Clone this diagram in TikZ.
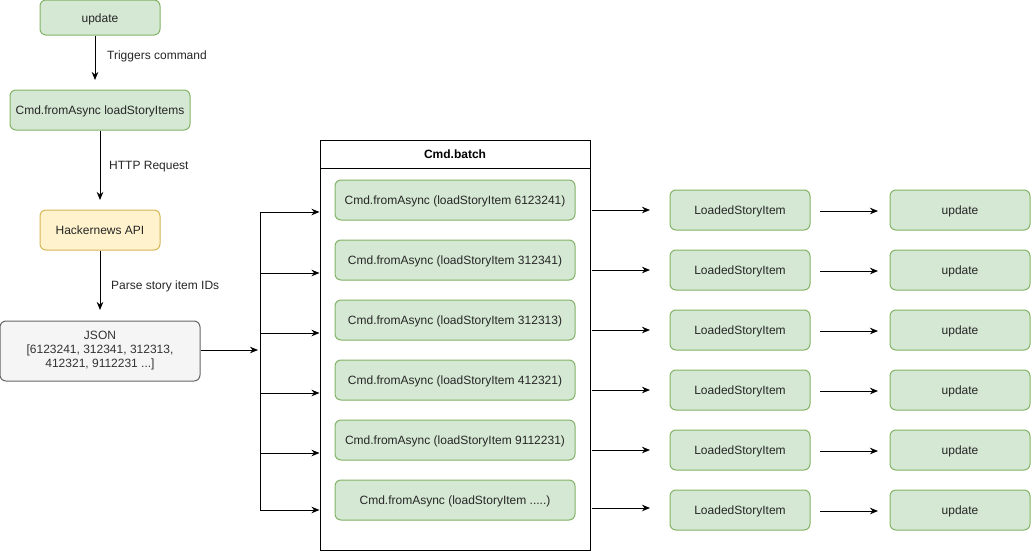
\documentclass[tikz,border=0pt]{standalone}
\usepackage{fontspec}
\setmainfont{Liberation Sans}
\usetikzlibrary{arrows.meta}
\definecolor{gfill}{HTML}{D5E8D4}
\definecolor{gline}{HTML}{82B366}
\definecolor{yfill}{HTML}{FFF2CC}
\definecolor{yline}{HTML}{D6B656}
\definecolor{hfill}{HTML}{F5F5F5}
\definecolor{hline}{HTML}{666666}
\definecolor{htext}{HTML}{333333}
\newcommand\myfivedots{.....}
\tikzset{
  box/.style={draw=gline, fill=gfill, rounded corners=6pt, line width=1pt, inner sep=0pt,
    font=\fontsize{12}{14}\selectfont, text=black!85, text height=10.5pt, text depth=1.5pt},
  ybox/.style={box, draw=yline, fill=yfill},
  hbox/.style={draw=hline, fill=hfill, rounded corners=6pt, line width=1pt, inner sep=0pt,
    font=\fontsize{12}{14}\selectfont, text=htext, align=center},
  arr/.style={line width=1pt, -{Stealth[length=8pt,width=6.5pt,inset=2.5pt]}},
  lbl/.style={anchor=west, font=\fontsize{12}{14}\selectfont, text=black!85, inner sep=0pt},
  sz/.style 2 args={minimum width=#1pt, minimum height=#2pt},
}
\begin{document}
\begin{tikzpicture}[x=1pt,y=-1pt]
\useasboundingbox (0,0) rectangle (1031,552);
% left column
\node[box, sz={120}{35}] (upd) at (100,17.5) {update};
\node[box, sz={180}{40}] (cmd) at (100,110) {Cmd.fromAsync loadStoryItems};
\node[ybox, sz={120}{40}] (api) at (100,230) {Hackernews API};
\node[hbox, sz={200}{60}] (json) at (100,351) {JSON\\[0pt][6123241, 312341, 312313,\\412321, 9112231 ...]};
\coordinate (t1) at (95,80);
\coordinate (t2) at (100,200);
\coordinate (t3) at (100,310);
\draw[arr] (upd.south -| t1) -- (t1);
\draw[arr] (cmd.south) -- (t2);
\draw[arr] (api.south) -- (t3);
\node[lbl] (l1) at (107,56.5) {Triggers command};
\node[lbl] (l2) at (109,166.5) {HTTP Request};
\node[lbl] (l3) at (111,286.5) {Parse story item IDs};
% batch container
\node[draw, line width=1pt, fill=white, minimum width=270pt, minimum height=410pt, inner sep=0pt] (batch) at (455,345) {};
\node[draw, line width=1pt, minimum width=270pt, minimum height=28pt, inner sep=0pt,
  text height=10.5pt, text depth=1.5pt,
  font=\bfseries\fontsize{12}{14}\selectfont] (hdr) at (455,154) {Cmd.batch};
% split
\coordinate (sp) at (260,350);
\draw[arr] (json.east |- sp) -- ([xshift=-2pt]sp);
\coordinate (vtop) at (260,212);
\coordinate (vbot) at (260,510);
\draw[line width=1pt] (vtop) -- (vbot);
\foreach \i/\yin/\yout/\lab in {1/212/210/6123241, 2/273/270/312341, 3/333/330/312313, 4/393/390/412321, 5/453/450/9112231, 6/510/508/\myfivedots}{
  \pgfmathsetmacro{\yc}{140+60*\i}
  \node[box, sz={240}{40}] (c\i) at (455,\yc) {Cmd.fromAsync (loadStoryItem \lab)};
  \node[box, sz={140}{40}] (ls\i) at (740,\yc+10) {LoadedStoryItem};
  \node[box, sz={140}{40}] (u\i) at (960,\yc+10) {update};
  \coordinate (li\i) at (260,\yin);
  \draw[arr] (li\i) -- (li\i -| batch.west);
  \coordinate (ro\i) at (592,\yout);
  \coordinate (rt\i) at (650,\yout);
  \draw[arr] (ro\i) -- (rt\i);
  \coordinate (mo\i) at (820,\yc+11);
  \coordinate (mt\i) at (878,\yc+11);
  \draw[arr] (mo\i) -- (mt\i);
}
\end{tikzpicture}
\end{document}
